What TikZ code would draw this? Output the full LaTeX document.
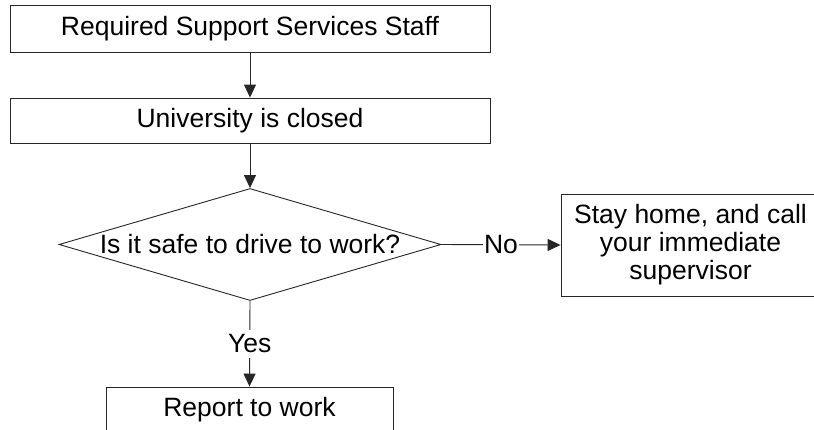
\documentclass[tikz,border=0pt]{standalone}
\usepackage{fontspec}
\setmainfont{Liberation Sans}
\usetikzlibrary{arrows.meta,shapes.geometric}
\begin{document}
\begin{tikzpicture}[x=1pt,y=-1pt,
  font=\fontsize{26.5}{28}\selectfont,
  line width=0.9pt,
  boxnode/.style={draw=black!85, rectangle, inner sep=0pt, align=center},
  arr/.style={draw=black!85, -{Triangle[length=13pt,width=12pt]}},
  lbl/.style={fill=white, inner xsep=1pt, inner ysep=5pt}]
\useasboundingbox (0,0) rectangle (814,429);
\clip (0,0) rectangle (814,429);
\node[boxnode, minimum width=480pt, minimum height=47pt] (b1) at (250,28.5) {Required Support Services Staff};
\node[boxnode, minimum width=480pt, minimum height=45pt] (b2) at (250,120.5) {University is closed};
\node[diamond, draw=black!85, inner sep=0pt, minimum width=382pt, minimum height=112pt] (d) at (250,244.5) {};
\node (dt) at (d.center) {Is it safe to drive to work?};
\node[boxnode, minimum width=259pt, minimum height=102pt] (b3) at (690.5,245) {Stay home, and call\\your immediate\\supervisor};
\node[boxnode, minimum width=287pt, minimum height=45pt] (b4) at (249.5,409.5) {Report to work};
\draw[arr] (b1.south) -- (b2.north);
\draw[arr] (b2.south) -- (d.north);
\draw[arr] (d.east) -- node[lbl] {No} (b3.west);
\draw[arr] (d.south) -- node[lbl] {Yes} (b4.north);
\end{tikzpicture}
\end{document}
